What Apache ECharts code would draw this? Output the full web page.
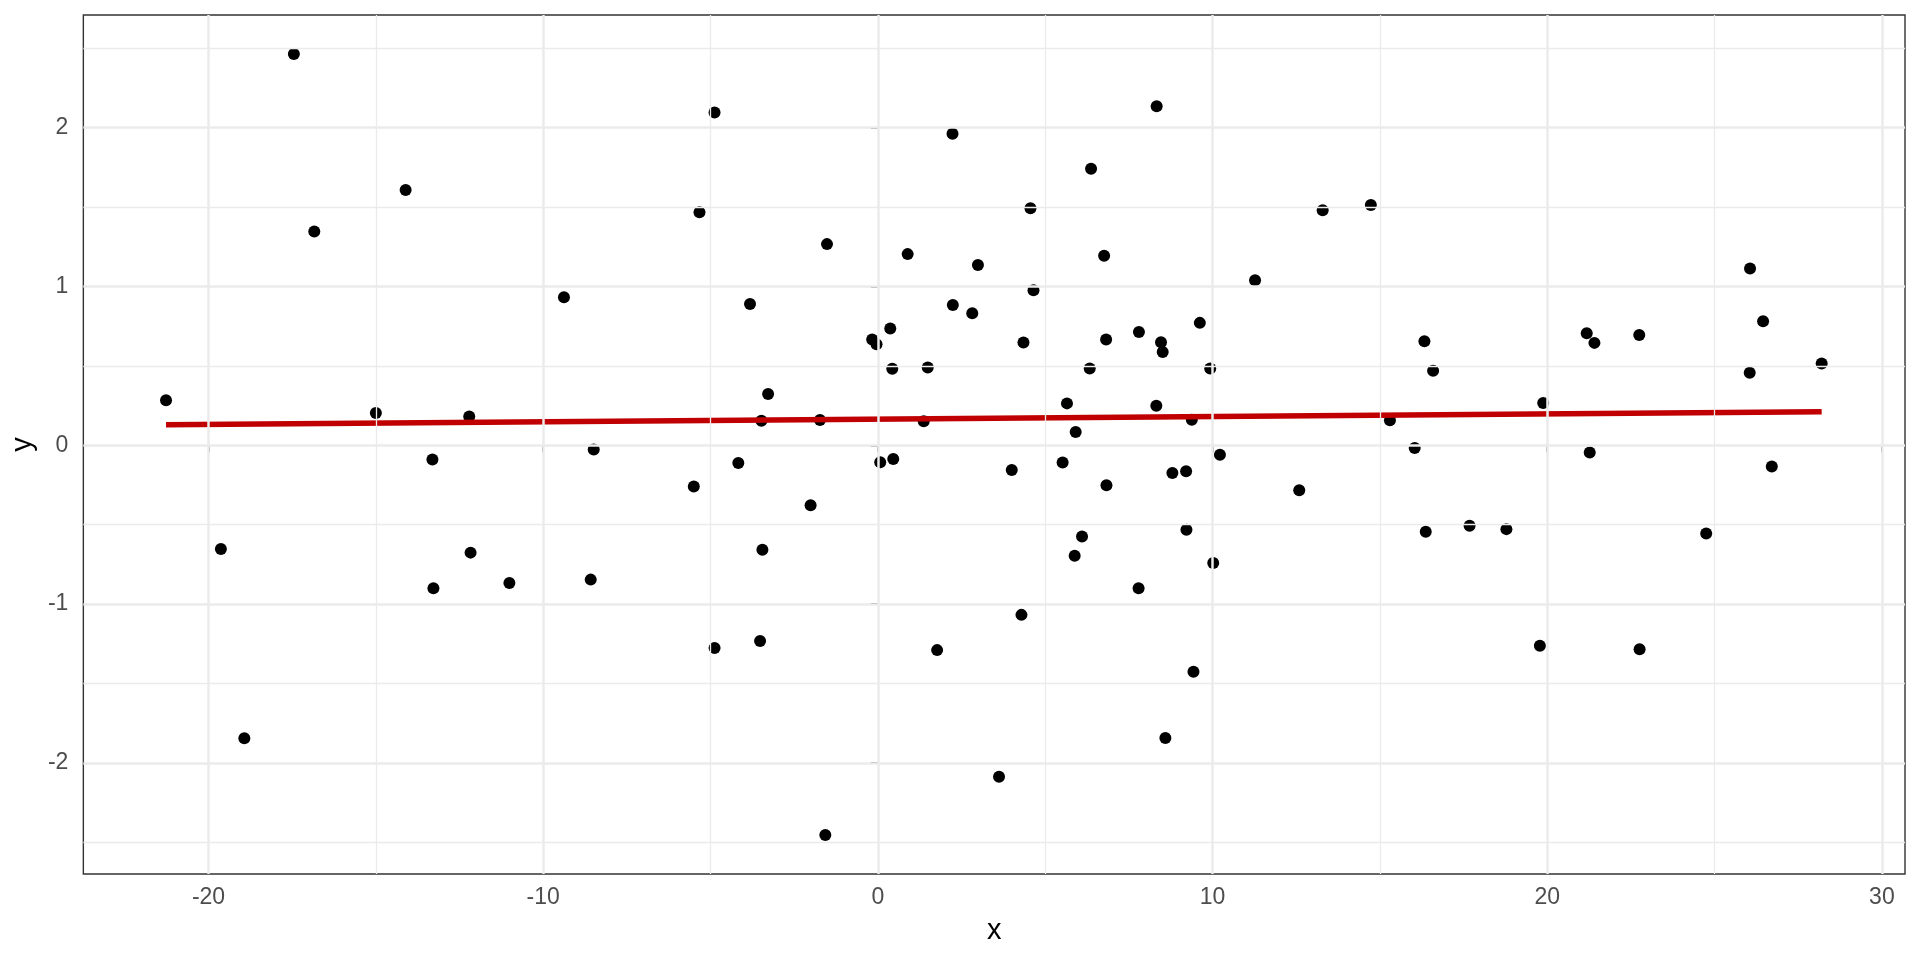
<!DOCTYPE html>
<html>
<head>
<meta charset="utf-8">
<script src="https://cdn.jsdelivr.net/npm/echarts@6/dist/echarts.min.js"></script>
<style>
html,body{margin:0;padding:0;background:#fff;}
#chart{width:1920px;height:960px;}
</style>
</head>
<body>
<div id="chart"></div>
<script>
// Scatter values
const xVals = [
  -21.27,-17.45,-16.84,-14.11,-15.00,-12.21,-13.31,-9.38,-8.49,
  -19.63,-18.93,-13.28,-12.17,-11.01,-8.58,
  -4.88,-5.33,-3.82,-1.52,-3.28,-3.48,-1.73,-4.17,-0.17,-0.04,0.37,0.43,0.07,0.46,0.89,1.49,1.37,
  2.23,2.24,2.99,2.82,4.00,4.56,4.65,4.35,5.65,5.52,5.91,6.37,6.76,6.82,6.33,7.80,8.33,8.46,8.51,
  8.32,8.80,9.21,9.62,9.93,9.38,10.22,11.27,
  -5.50,-2.01,-3.45,-4.88,-3.52,1.77,-1.57,6.83,6.10,5.88,4.29,3.62,9.22,10.02,7.79,9.43,8.59,
  13.29,14.73,16.33,16.59,15.30,16.04,19.88,21.18,21.41,22.75,21.27,26.06,26.45,26.05,28.20,26.71,
  12.59,16.37,17.68,18.78,24.75,19.78,22.76
];
const yVals = [
  0.283,2.465,1.347,1.608,0.203,0.182,-0.090,0.932,-0.027,
  -0.653,-1.845,-0.900,-0.676,-0.867,-0.846,
  2.096,1.468,0.890,1.267,0.323,0.155,0.159,-0.111,0.666,0.637,0.735,0.482,-0.107,-0.086,1.204,0.490,0.151,
  1.962,0.884,1.135,0.831,-0.155,1.493,0.976,0.647,0.264,-0.109,0.084,1.742,1.194,0.666,0.484,0.714,2.136,0.649,0.588,
  0.249,-0.174,-0.163,0.771,0.484,0.161,-0.059,1.039,
  -0.260,-0.377,-0.658,-1.277,-1.233,-1.290,-2.454,-0.251,-0.574,-0.695,-1.068,-2.088,-0.532,-0.741,-0.901,-1.426,-1.843,
  1.481,1.514,0.655,0.469,0.157,-0.017,0.266,0.706,0.645,0.695,-0.046,1.114,0.781,0.457,0.515,-0.134,
  -0.283,-0.545,-0.507,-0.528,-0.555,-1.263,-1.284
];
// Fitted regression line endpoints
const fitX = [-21.27, 28.20];
const fitY = [0.130, 0.2115];

// Axis ticks
const xMajor = [-20, -10, 0, 10, 20, 30];
const xMinor = [-15, -5, 5, 15, 25];
const yMajor = [-2, -1, 0, 1, 2];
const yMinor = [-2.5, -1.5, -0.5, 0.5, 1.5, 2.5];
const xRange = [-23.74, 30.69];
const yRange = [-2.70, 2.71];

const points = xVals.map((x, i) => [x, yVals[i]]);
const fitLine = fitX.map((x, i) => [x, fitY[i]]);

const gridLine = (vals, key, width) => ({
  type: 'line', data: [], silent: true, z: 0,
  markLine: {
    silent: true, symbol: ['none', 'none'], animation: false,
    label: {show: false},
    lineStyle: {color: '#ebebeb', width: width, type: 'solid'},
    emphasis: {disabled: true},
    data: vals.map(v => ({[key]: v}))
  }
});

const FONT = '"Liberation Sans", Arial, sans-serif';
const chart = echarts.init(document.getElementById('chart'), null, {renderer: 'canvas'});
chart.setOption({
  animation: false,
  backgroundColor: '#ffffff',
  grid: {left: 83, right: 15, top: 15, bottom: 86, show: true, borderColor: '#333333', borderWidth: 1.4, backgroundColor: 'transparent', containLabel: false},
  xAxis: {
    type: 'value', min: xRange[0], max: xRange[1],
    name: 'x', nameLocation: 'middle', nameGap: 42,
    nameTextStyle: {fontFamily: FONT, fontSize: 29, color: '#000'},
    axisLine: {show: false},
    axisTick: {show: true, length: 7, customValues: xMajor, lineStyle: {color: '#333333', width: 1.5}},
    axisLabel: {customValues: xMajor, fontFamily: FONT, fontSize: 23, color: '#4d4d4d', margin: 12},
    splitLine: {show: false}
  },
  yAxis: {
    type: 'value', min: yRange[0], max: yRange[1],
    name: 'y', nameLocation: 'middle', nameGap: 36, nameRotate: 90,
    nameTextStyle: {fontFamily: FONT, fontSize: 29, color: '#000'},
    axisLine: {show: false},
    axisTick: {show: true, length: 7, customValues: yMajor, lineStyle: {color: '#333333', width: 1.5}},
    axisLabel: {customValues: yMajor, fontFamily: FONT, fontSize: 23, color: '#4d4d4d', margin: 15},
    splitLine: {show: false}
  },
  series: [
    gridLine(xMinor, 'xAxis', 1.3),
    gridLine(yMinor, 'yAxis', 1.3),
    gridLine(xMajor, 'xAxis', 2.5),
    gridLine(yMajor, 'yAxis', 2.5),
    {
      type: 'scatter', data: points, symbol: 'circle', symbolSize: 12, z: 3,
      itemStyle: {color: '#000000', opacity: 1}, silent: true
    },
    {
      type: 'line', data: fitLine, z: 4, symbol: 'none', silent: true,
      lineStyle: {color: '#c00000', width: 5.5, cap: 'butt'}
    }
  ]
});
</script>
</body>
</html>
